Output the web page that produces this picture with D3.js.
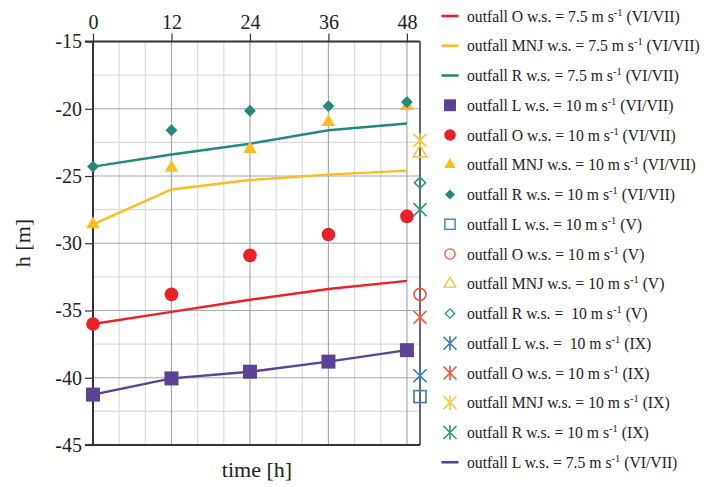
<!DOCTYPE html>
<html>
<head>
<meta charset="utf-8">
<script src="https://cdn.jsdelivr.net/npm/d3@7"></script>
<style>
  body { margin: 0; background: #fff; }
  svg text { font-family: "Liberation Serif", "Times New Roman", serif; fill: #222; }
</style>
</head>
<body>
<svg id="chart"></svg>
<script>
const width = 704, height = 487;
const serif = "'Liberation Serif', 'Times New Roman', serif";

// data
const times = [0, 12, 24, 36, 48];
const endTime = 50;
const tickTimes = [0, 12, 24, 36, 48];
const tickH = [-15, -20, -25, -30, -35, -40, -45];

const lineO75 = [-36.0, -35.1, -34.2, -33.4, -32.8];
const lineMNJ75 = [-28.6, -26.0, -25.3, -24.9, -24.6];
const lineR75 = [-24.3, -23.4, -22.6, -21.6, -21.1];
const lineL75 = [-41.25, -40.05, -39.55, -38.8, -37.95];

const ptsL10 = [-41.25, -40.05, -39.55, -38.8, -37.95];
const ptsO10 = [-36.0, -33.8, -30.9, -29.35, -28.0];
const ptsMNJ10 = [-28.6, -24.4, -23.0, -21.0, -19.8];
const ptsR10 = [-24.3, -21.6, -20.15, -19.8, -19.5];

// single points at the right edge (V and IX)
const ptsV = { L: -41.4, O: -33.8, MNJ: -23.3, R: -25.5 };
const ptsIX = { L: -39.85, O: -35.5, MNJ: -22.35, R: -27.5 };

const col = {
    red: "#ec2127",
    yellow: "#fbbd22",
    teal: "#23897b",
    purple: "#5c4294",
    blue: "#3b78b8",
    orange: "#f2553d",
    yellowV: "#fcc33d",
    tealV: "#2b9484"
};

const x = d3.scaleLinear().domain([0, endTime]).range([93, 420]);
const y = d3.scaleLinear().domain([-15, -45]).range([41.5, 445]);

const svg = d3.select("#chart").attr("width", width).attr("height", height);

// grid
const grid = svg.append("g");
grid.selectAll(".vminor").data(d3.range(4, endTime + 1, 4).filter(d => d % 12 !== 0))
    .enter().append("line")
    .attr("x1", d => x(d)).attr("x2", d => x(d))
    .attr("y1", y(-15)).attr("y2", y(-45))
    .attr("stroke", "#dcdcdc").attr("stroke-width", 1.2);
grid.selectAll(".hminor").data(d3.range(-17.5, -45, -5))
    .enter().append("line")
    .attr("x1", x(0)).attr("x2", x(endTime))
    .attr("y1", d => y(d)).attr("y2", d => y(d))
    .attr("stroke", "#dcdcdc").attr("stroke-width", 1.2);
grid.selectAll(".vmajor").data(tickTimes.slice(1))
    .enter().append("line")
    .attr("x1", d => x(d)).attr("x2", d => x(d))
    .attr("y1", y(-15)).attr("y2", y(-45))
    .attr("stroke", "#a9a9a9").attr("stroke-width", 1.2);
grid.selectAll(".hmajor").data(tickH.slice(1, -1))
    .enter().append("line")
    .attr("x1", x(0)).attr("x2", x(endTime))
    .attr("y1", d => y(d)).attr("y2", d => y(d))
    .attr("stroke", "#a9a9a9").attr("stroke-width", 1.2);

// frame
svg.append("line").attr("x1", x(endTime)).attr("x2", x(endTime))
    .attr("y1", y(-15)).attr("y2", y(-45)).attr("stroke", "#666").attr("stroke-width", 2);
svg.append("line").attr("x1", x(0) - 8).attr("x2", x(endTime))
    .attr("y1", y(-45)).attr("y2", y(-45)).attr("stroke", "#333").attr("stroke-width", 2);

// axes
const xAxis = d3.axisTop(x).tickValues(tickTimes).tickSize(8).tickPadding(5).tickFormat(d => String(d));
const gx = svg.append("g").attr("transform", "translate(0," + y(-15) + ")").call(xAxis)
    .attr("font-family", serif).attr("font-size", 20);
gx.select(".domain").attr("stroke", "#333").attr("stroke-width", 2).attr("d", "M" + (x(0) - 8) + ",0H" + x(endTime));
gx.selectAll(".tick line").attr("stroke", "#333").attr("stroke-width", 1.2);
gx.selectAll(".tick text").attr("fill", "#222");

const yAxis = d3.axisLeft(y).tickValues(tickH).tickSize(8).tickPadding(3).tickFormat(d => String(d));
const gy = svg.append("g").attr("transform", "translate(" + x(0) + ",0)").call(yAxis)
    .attr("font-family", serif).attr("font-size", 20);
gy.select(".domain").attr("stroke", "#333").attr("stroke-width", 2).attr("d", "M0," + y(-15) + "V" + y(-45));
gy.selectAll(".tick line").attr("stroke", "#333").attr("stroke-width", 1.2);
gy.selectAll(".tick text").attr("fill", "#222");

svg.append("text").attr("x", 257).attr("y", 477).attr("text-anchor", "middle")
    .attr("font-family", serif).attr("font-size", 22).text("time [h]");
svg.append("text").attr("transform", "translate(30,243) rotate(-90)").attr("text-anchor", "middle")
    .attr("font-family", serif).attr("font-size", 22).text("h [m]");

// lines
const line = d3.line().x((d, i) => x(times[i])).y(d => y(d));
[[lineR75, col.teal], [lineMNJ75, col.yellow], [lineO75, col.red], [lineL75, col.purple]].forEach(function (s) {
    svg.append("path").datum(s[0]).attr("d", line)
        .attr("fill", "none").attr("stroke", s[1]).attr("stroke-width", 2.4);
});

// marker drawing
function asterisk(r) {
    const a = r * 0.9;
    return "M0," + (-r) + "V" + r + "M" + (-a) + "," + (-a) + "L" + a + "," + a + "M" + (-a) + "," + a + "L" + a + "," + (-a);
}
function marker(g, type, color) {
    if (type === "square") {
        g.append("rect").attr("x", -7).attr("y", -7).attr("width", 14).attr("height", 14).attr("fill", color);
    } else if (type === "circle") {
        g.append("circle").attr("r", 6.8).attr("fill", color);
    } else if (type === "triangle") {
        g.append("path").attr("d", d3.symbol().type(d3.symbolTriangle).size(80)()).attr("fill", color);
    } else if (type === "diamond") {
        g.append("path").attr("d", d3.symbol().type(d3.symbolSquare).size(70)())
            .attr("transform", "rotate(45)").attr("fill", color);
    } else if (type === "osquare") {
        g.append("rect").attr("x", -6).attr("y", -6).attr("width", 12).attr("height", 12)
            .attr("fill", "none").attr("stroke", color).attr("stroke-width", 1.6);
    } else if (type === "ocircle") {
        g.append("circle").attr("r", 6).attr("fill", "none").attr("stroke", color).attr("stroke-width", 1.6);
    } else if (type === "otriangle") {
        g.append("path").attr("d", d3.symbol().type(d3.symbolTriangle).size(80)())
            .attr("fill", "none").attr("stroke", color).attr("stroke-width", 1.6);
    } else if (type === "odiamond") {
        g.append("path").attr("d", d3.symbol().type(d3.symbolSquare).size(60)())
            .attr("transform", "rotate(45)").attr("fill", "none").attr("stroke", color).attr("stroke-width", 1.6);
    } else if (type === "star") {
        g.append("path").attr("d", asterisk(7.2)).attr("fill", "none").attr("stroke", color).attr("stroke-width", 1.6);
    } else if (type === "line") {
        g.append("line").attr("x1", -8.5).attr("x2", 8.5).attr("stroke", color).attr("stroke-width", 2.6);
    }
}

function drawPoints(values, xs, type, color) {
    values.forEach(function (v, i) {
        const g = svg.append("g").attr("transform", "translate(" + x(xs[i]) + "," + y(v) + ")");
        marker(g, type, color);
    });
}

drawPoints(ptsL10, times, "square", col.purple);
drawPoints(ptsO10, times, "circle", col.red);
drawPoints(ptsMNJ10, times, "triangle", col.yellow);
drawPoints(ptsR10, times, "diamond", col.teal);

drawPoints([ptsV.L], [endTime], "osquare", col.blue);
drawPoints([ptsV.O], [endTime], "ocircle", col.orange);
drawPoints([ptsV.MNJ], [endTime], "otriangle", col.yellowV);
drawPoints([ptsV.R], [endTime], "odiamond", col.tealV);
drawPoints([ptsIX.L], [endTime], "star", col.blue);
drawPoints([ptsIX.O], [endTime], "star", col.orange);
drawPoints([ptsIX.MNJ], [endTime], "star", col.yellowV);
drawPoints([ptsIX.R], [endTime], "star", col.tealV);

// legend
const legendItems = [
    ["line", col.red, "outfall O w.s. = 7.5 m s", " (VI/VII)"],
    ["line", col.yellow, "outfall MNJ w.s. = 7.5 m s", " (VI/VII)"],
    ["line", col.teal, "outfall R w.s. = 7.5 m s", " (VI/VII)"],
    ["square", col.purple, "outfall L w.s. = 10 m s", " (VI/VII)"],
    ["circle", col.red, "outfall O w.s. = 10 m s", " (VI/VII)"],
    ["triangle", col.yellow, "outfall MNJ w.s. = 10 m s", " (VI/VII)"],
    ["diamond", col.teal, "outfall R w.s. = 10 m s", " (VI/VII)"],
    ["osquare", col.blue, "outfall L w.s. = 10 m s", " (V)"],
    ["ocircle", col.orange, "outfall O w.s. = 10 m s", " (V)"],
    ["otriangle", col.yellowV, "outfall MNJ w.s. = 10 m s", " (V)"],
    ["odiamond", col.tealV, "outfall R w.s. =  10 m s", " (V)"],
    ["star", col.blue, "outfall L w.s. =  10 m s", " (IX)"],
    ["star", col.orange, "outfall O w.s. = 10 m s", " (IX)"],
    ["star", col.yellowV, "outfall MNJ w.s. = 10 m s", " (IX)"],
    ["star", col.tealV, "outfall R w.s. = 10 m s", " (IX)"],
    ["line", col.purple, "outfall L w.s. = 7.5 m s", " (VI/VII)"]
];

const legend = svg.selectAll(".legend").data(legendItems).enter().append("g")
    .attr("transform", (d, i) => "translate(450," + (16 + i * 29.75) + ")");
legend.each(function (d) {
    const g = d3.select(this);
    const mg = g.append("g");
    if (d[0] !== "line" && d[0] !== "star") mg.attr("transform", "scale(0.85)");
    marker(mg, d[0], d[1]);
    const t = g.append("text").attr("x", 17).attr("y", 5.5)
        .attr("font-family", serif).attr("font-size", 15.7).style("white-space", "pre");
    t.append("tspan").text(d[2]);
    t.append("tspan").attr("dy", -6).attr("font-size", 10.5).text("-1");
    t.append("tspan").attr("dy", 6).text(d[3]);
});
</script>
</body>
</html>
